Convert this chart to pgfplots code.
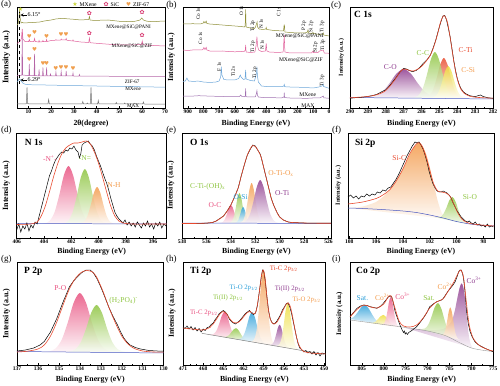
\documentclass[border=0pt]{standalone}
\usepackage{fontspec}
\setmainfont{Liberation Serif}
\newfontfamily\symf{DejaVu Sans}
\usepackage{pgfplots}
\pgfplotsset{compat=1.18}
\definecolor{cpink}{HTML}{E8507F}
\definecolor{cgreen}{HTML}{8DC43F}
\definecolor{corange}{HTML}{F39A4A}
\definecolor{cred}{HTML}{E84A2E}
\definecolor{cpurple}{HTML}{8E3B8E}
\definecolor{cblue}{HTML}{2B9ED8}
\definecolor{cyellow}{HTML}{EEDD3C}
\definecolor{cbase}{HTML}{4756C0}
\definecolor{colive}{HTML}{8E8E36}
\definecolor{czifc}{HTML}{E0619B}
\definecolor{czif}{HTML}{B565A7}
\definecolor{cmx}{HTML}{6CA6D9}
\definecolor{cmax}{HTML}{707070}
\definecolor{cmaxb}{HTML}{A070B0}
\definecolor{cstar}{HTML}{C8D43A}
\definecolor{csic}{HTML}{D6336C}
\definecolor{cheart}{HTML}{F0A050}
\tikzset{
 lab/.style={font=\fontsize{7.5}{8}\selectfont, inner sep=0pt},
 ttl/.style={anchor=north west, font=\bfseries\fontsize{9.5}{10}\selectfont, inner sep=0pt},
 plet/.style={anchor=north west, font=\fontsize{9}{10}\selectfont, inner sep=0pt},
}
\pgfplotsset{
 panel/.style={scale only axis, anchor=south west, clip=false,
   axis line style={line width=0.6pt}, ytick=\empty, xtick pos=bottom, tick align=inside,
   major tick length=2.2pt, minor tick length=1.3pt, minor x tick num=1,
   every tick/.style={black, line width=0.4pt},
   ymin=0,
   tick label style={font=\bfseries\fontsize{5.6}{6}\selectfont},
   xticklabel style={inner sep=1.5pt},
   /pgf/number format/assume math mode=true,
   /pgf/number format/1000 sep={},
   xlabel style={font=\bfseries\fontsize{7.8}{8}\selectfont, at={(axis description cs:0.5,0)}, anchor=north, inner sep=0pt},
   ylabel style={font=\bfseries\fontsize{7.5}{8}\selectfont, at={(axis description cs:-0.045,0.5)}, anchor=south, inner sep=0pt},
   ylabel={Intensity (a.u.)}},
 xps/.style={panel, x dir=reverse, xlabel={Binding Energy (eV)}},
 pk/.style={draw=none, smooth, top color=#1, bottom color=#1!6, fill opacity=0.85, forget plot},
 expt/.style={black, line width=0.5pt, forget plot},
 fit/.style={cred, line width=0.6pt, smooth, forget plot},
 bl/.style={cbase, line width=0.5pt, forget plot},
}
\begin{document}
\begin{tikzpicture}
\useasboundingbox (0,0) rectangle (500bp,386bp);
% ================= (a) =================
\begin{axis}[panel, at={(17bp,278bp)}, width=148bp, height=101bp, xmin=5, xmax=70, ymax=101,
  xtick={10,20,...,70}, xlabel={2θ(degree)}, xlabel style={yshift=-12bp},
  ylabel style={font=\bfseries\fontsize{8.5}{9}\selectfont},
  legend columns=3, legend cell align=left,
  legend style={draw=none, fill=none, font=\fontsize{5.7}{6}\selectfont, inner sep=0pt,
    at={(axis description cs:0.64,1.02)}, anchor=center,
    /tikz/every even column/.append style={column sep=5pt}}]
\addplot[cmax, line width=0.5pt, forget plot] coordinates {(5,4.2)(8,4)(9.1,4.3)(9.4,20.5)(9.7,4.3)(12,4)(18.6,4.2)(18.9,8.5)(19.2,4.2)(33.6,4.1)(33.9,6.5)(34.2,4.1)(35.6,4.1)(35.9,5)(36.2,4.1)(37.2,4.2)(37.5,20.5)(37.8,4.2)(40.4,4)(40.7,7.5)(41,4)(48.3,4)(48.6,5.5)(48.9,4)(52,4)(52.3,5)(52.6,4)(56.4,4)(56.7,4.8)(57,4)(60.2,4)(60.5,6)(60.8,4)(70,3.8)};
\addplot[cmx, line width=0.5pt, forget plot] coordinates {(5,26)(5.5,27.5)(6.0,29)(6.3,28.5)(6.8,27)(7.5,25)(8.5,23.8)(10,23.3)(15,23.1)(20,22.9)(25,22.6)(30,22.4)(35,22.2)(40,22)(45,21.8)(50,21.5)(55,21.4)(60,21.2)(65,21)(70,20.8)};
\addplot[czif, line width=0.5pt, forget plot] coordinates {(5,32.5)(6.5,32.5)(7.1,33)(7.3,76)(7.5,33)(10.2,32.3)(10.4,44)(10.6,32.3)(12.5,32.3)(12.7,54)(12.9,32.3)(14.5,32.2)(14.7,38.5)(14.9,32.2)(16.2,32.2)(16.4,40.5)(16.6,32.2)(17.8,32.2)(18.0,40.5)(18.2,32.2)(19.5,32.1)(19.7,34)(19.9,32.1)(21.9,32.1)(22.1,36)(22.3,32.1)(24.2,32.1)(24.4,36.5)(24.6,32.1)(26.4,32)(26.6,37)(26.8,32)(29.4,32)(29.6,35)(29.8,32)(32.2,31.9)(32.4,33.5)(32.6,31.9)(40,31.8)(50,31.7)(60,31.6)(70,31.5)};
\addplot[czifc, line width=0.5pt, forget plot] coordinates {(5,64.5)(5.8,66)(6.5,67)(7.0,70)(7.3,79)(7.6,69)(8.5,66.5)(10.1,66.3)(10.4,68.5)(10.7,66.3)(12.4,66.5)(12.7,69.5)(13.0,66.5)(14.5,66)(14.7,67.5)(14.9,66)(16.2,66.3)(16.4,67.5)(16.6,66.3)(17.8,66.5)(18.0,68.5)(18.2,66.5)(20,67.5)(22,67.8)(22.1,68.5)(22.3,67.8)(24.2,68)(24.4,69)(24.6,68)(26.4,68)(26.6,69.5)(26.8,67.8)(29.4,67)(29.6,68)(29.8,67)(33,66)(36.5,65.5)(36.8,70)(37.1,65.3)(40,64.7)(45,63.8)(50,63)(55,63)(59.7,63.5)(60,67)(60.3,63.3)(65,62.5)(70,62)};
\addplot[colive, line width=0.5pt, forget plot] coordinates {(5,83)(5.5,84)(5.9,90)(6.15,98.5)(6.4,90)(6.8,85)(7.3,85.5)(8,85)(10,85.3)(12,85.5)(15,86)(17,87)(20,88)(22,89)(25,89.7)(27,89.2)(30,88.7)(33,88)(35,88.3)(36.5,88.5)(36.8,91.5)(37.1,88)(39,87.5)(42,87.8)(45,88)(48,87.2)(50,86.7)(53,86.5)(55,86.3)(57,86.8)(59,88)(59.8,90)(60.5,88)(62,86.8)(65,86.3)(68,86.8)(70,87)};
\addplot[black, dashed, line width=0.5pt, forget plot] coordinates {(6.2,24)(6.2,96)};
\addplot[black, line width=0.4pt, -stealth, forget plot] coordinates {(9.4,93)(6.5,93)};
\addplot[black, line width=0.4pt, -stealth, forget plot] coordinates {(9.4,28)(6.5,28)};
\addplot[only marks, color=cstar, mark=text, text mark={★}, text mark as node=true, text mark style={font=\symf\fontsize{6}{6}\selectfont, inner sep=0pt}] coordinates {(6.6,99)};
\addlegendentry{MXene}
\addplot[only marks, color=csic, mark=text, text mark={✿}, text mark as node=true, text mark style={font=\symf\fontsize{6}{6}\selectfont, inner sep=0pt}] coordinates {(36.8,95)(60,95.5)(36.8,74.5)(60,72.5)};
\addlegendentry{SiC}
\addplot[only marks, color=cheart, mark=text, text mark={♥}, text mark as node=true, text mark style={font=\symf\fontsize{5.5}{6}\selectfont, inner sep=0pt}] coordinates {(10.4,71.5)(12.7,75)(18,71.5)(24.4,73)(26.6,73.5)(10.4,48)(12.7,58.5)(16.4,44)(18,44)(22.1,39.5)(24.4,40)(26.6,40.5)(29.6,39)};
\addlegendentry{ZIF-67}
\node[anchor=west, font=\fontsize{6}{6}\selectfont, inner sep=0pt] at (axis cs:9.6,93) {6.15°};
\node[anchor=west, font=\fontsize{6}{6}\selectfont, inner sep=0pt] at (axis cs:9.6,28) {6.29°};
\node[font=\fontsize{5.2}{6}\selectfont, inner sep=0pt] at (axis cs:54,80.7) {MXene@SiC@PANI};
\node[font=\fontsize{5.2}{6}\selectfont, inner sep=0pt] at (axis cs:55.5,61.3) {MXene@SiC@ZIF};
\node[font=\fontsize{5.2}{6}\selectfont, inner sep=0pt] at (axis cs:55.6,26.3) {ZIF-67};
\node[font=\fontsize{5.2}{6}\selectfont, inner sep=0pt] at (axis cs:56,18.7) {MXene};
\node[font=\fontsize{5.2}{6}\selectfont, inner sep=0pt] at (axis cs:56,2.5) {MAX};
\node[plet] at (axis description cs:-0.108,1.069) {(a)};
\end{axis}
% ================= (b) =================
\begin{axis}[panel, x dir=reverse, at={(183bp,278bp)}, width=146bp, height=101bp, xmin=0, xmax=930, ymax=101,
  xtick={0,100,...,900}, xlabel={Binding Energy (eV)}, xlabel style={yshift=-12bp},
  ylabel style={font=\bfseries\fontsize{7.8}{8}\selectfont, at={(axis description cs:-0.055,0.5)}}]
\addplot[cmaxb, line width=0.5pt] coordinates {(930,12)(880,11.8)(830,12.3)(780,12)(700,11.6)(650,11.4)(600,11.3)(570,11.5)(563,13)(555,11.5)(540,11.2)(533,12)(531,19.7)(529,11.5)(520,11)(470,11)(464,13.5)(462,15)(459,17.3)(456,13)(450,11)(420,10.5)(380,10.3)(300,10.2)(287,11)(285,15.3)(283,10.4)(250,10)(200,9.8)(150,9.7)(110,9.8)(100,10.2)(60,10)(40,11.5)(37,12)(33,10.2)(0,9.7)};
\addplot[cmx, line width=0.5pt] coordinates {(930,26.5)(915,27)(905,30)(895,27)(860,26.5)(835,27)(800,26)(760,25.5)(720,26)(700,27)(690,31)(686,41.3)(682,33)(670,28.5)(640,28)(600,28)(575,29.5)(565,33)(560,31)(545,28.5)(535,29)(531,38)(528,29)(500,27.5)(475,27)(466,32)(462,35)(459,41.3)(456,32)(450,26)(430,22)(400,21.5)(350,21.3)(300,21.3)(288,22)(285,23.5)(282,21.3)(250,21)(200,20.8)(150,20.5)(100,20)(65,21)(45,22)(38,24)(35,21.5)(0,19.7)};
\addplot[czifc, line width=0.5pt] coordinates {(930,58)(900,57.5)(870,58)(810,58)(800,59)(797,60.5)(790,58.5)(782,60.7)(778,58)(760,57)(720,56.8)(680,57)(640,56.5)(600,56.2)(560,56.5)(540,56.5)(533,58)(531,63)(528,56)(500,55.5)(472,56)(465,62)(462,66)(459,71.3)(455,62)(448,58)(430,56.5)(405,57)(400,64.7)(396,57)(380,56)(320,55.5)(292,56)(285,73)(281,56)(250,55)(200,55)(160,55)(110,55.2)(101,57)(98,55.3)(70,55.5)(60,57)(37,58)(30,55)(0,54.7)};
\addplot[colive, line width=0.5pt] coordinates {(930,84)(900,84)(870,84.3)(820,84)(800,85)(797,86.5)(790,85)(782,87)(778,84.5)(760,84)(720,83.5)(680,83)(640,82.5)(600,82)(560,81.5)(540,81)(534,82)(531,98.7)(528,81)(500,80)(475,79.5)(468,81)(462,84)(458,86)(455,81)(445,79)(420,78.5)(403,79)(400,80.5)(397,78.5)(350,77.5)(290,77)(286,83)(284,83)(281,76)(250,75.5)(200,75)(160,75)(140,75.5)(134,78)(130,75)(110,74.5)(102,75.5)(99,74.5)(60,73.5)(40,74)(37,75)(34,73)(0,72)};
\begin{scope}[every node/.style={rotate=90, font=\fontsize{5.2}{6}\selectfont, inner sep=0pt}]
\node at (axis cs:834,94) {Co 1s};
\node at (axis cs:557,97) {O 1s};
\node at (axis cs:485,82) {Ti 2p};
\node at (axis cs:432,84) {N 1s};
\node at (axis cs:321,95.7) {C 1s};
\node at (axis cs:159,82.3) {P 2p};
\node at (axis cs:114,81.3) {Si 2p};
\node at (axis cs:44,81.3) {Ti 3p};
\node at (axis cs:819,69.7) {Co 1s};
\node at (axis cs:485,61.3) {Ti 2p};
\node at (axis cs:426,63) {N 1s};
\node at (axis cs:87,60.7) {Si 2p};
\node at (axis cs:39,63) {Ti 3p};
\node at (axis cs:699,41.3) {F 1s};
\node at (axis cs:611,36.3) {Ti 2s};
\node at (axis cs:472,35.3) {Ti 2p};
\node at (axis cs:44,27.3) {Ti 3p};
\end{scope}
\node[font=\fontsize{5.6}{6}\selectfont, inner sep=0pt] at (axis cs:186,72) {MXene@SiC@PANI};
\node[font=\fontsize{5.6}{6}\selectfont, inner sep=0pt] at (axis cs:179,48) {MXene@SiC@ZIF};
\node[font=\fontsize{5.6}{6}\selectfont, inner sep=0pt] at (axis cs:135,13) {MXene};
\node[font=\fontsize{5.6}{6}\selectfont, inner sep=0pt] at (axis cs:135,2.5) {MAX};
\node[plet] at (axis description cs:-0.116,1.059) {(b)};
\end{axis}
% ================= (c) =================
\begin{axis}[xps, at={(350bp,278bp)}, width=143bp, height=101bp, xmin=282, xmax=290, ymax=101,
  xtick={282,...,290}, xlabel style={yshift=-12bp},
  ylabel style={font=\bfseries\fontsize{6}{7}\selectfont, at={(axis description cs:-0.04,0.5)}}]
\addplot[pk=cpurple] coordinates {(289.4,10)(289.0,10.38)(288.6,11.81)(288.2,16.09)(287.8,24.5)(287.4,34.39)(287.0,39)(286.6,34.39)(286.2,24.5)(285.8,16.09)(285.4,11.81)(285.0,10.38)(284.6,10)} -- cycle;
\addplot[pk=cred] coordinates {(285.95,10)(285.75,10.52)(285.55,12.5)(285.35,18.4)(285.15,30)(284.95,43.64)(284.75,50)(284.55,43.64)(284.35,30)(284.15,18.4)(283.95,12.5)(283.75,10.52)(283.55,10)} -- cycle;
\addplot[pk=cgreen] coordinates {(286.6,10)(286.375,10.6)(286.15,12.88)(285.925,19.66)(285.7,33)(285.475,48.69)(285.25,56)(285.025,48.69)(284.8,33)(284.575,19.66)(284.35,12.88)(284.125,10.6)(283.9,10)} -- cycle;
\addplot[pk=cyellow] coordinates {(285.55,10)(285.375,10.42)(285.2,12)(285.025,16.72)(284.85,26)(284.675,36.91)(284.5,42)(284.325,36.91)(284.15,26)(283.975,16.72)(283.8,12)(283.625,10.42)(283.45,10)} -- cycle;
\addplot[bl] coordinates {(290,10.5)(282,9)};
\addplot[expt] coordinates {(290,9.7)(289.7,10.3)(289.4,10.6)(289.1,11.3)(288.8,12.2)(288.5,13.6)(288.2,16.5)(288,18.2)(287.8,22)(287.6,26.5)(287.4,31)(287.2,36)(287.0,39.7)(286.85,39)(286.7,37.6)(286.5,36.3)(286.3,37.5)(286.1,40.5)(285.9,44.7)(285.7,48)(285.5,53)(285.35,60)(285.2,68)(285.05,78)(284.9,87)(284.8,92)(284.7,92.5)(284.6,88)(284.5,80)(284.4,71.3)(284.3,60)(284.2,48)(284.1,38)(284.0,29.7)(283.9,24)(283.8,19.7)(283.65,16)(283.5,14)(283.3,12.3)(283.0,11.3)(282.8,12.5)(282.7,13)(282.55,11.5)(282.3,10.3)(282,9.7)};
\addplot[fit] coordinates {(290,10.2)(289.5,10.8)(289,11.5)(288.5,13.3)(288,17.5)(287.5,28)(287.2,36)(287,39)(286.7,37.8)(286.45,37)(286.1,40)(285.8,45.5)(285.5,53)(285.3,62)(285.1,74)(284.95,85)(284.8,91.5)(284.7,92)(284.55,86)(284.4,71)(284.25,53)(284.1,37)(283.95,26)(283.8,19)(283.6,14.5)(283.3,11.8)(283,10.8)(282.5,10.2)(282,9.8)};
\node[lab, text=cpurple] at (axis cs:287.75,41.3) {C-O};
\node[lab, text=cgreen] at (axis cs:285.92,54.7) {C-C};
\node[lab, text=cred] at (axis cs:283.54,58) {C-Ti};
\node[lab, text=corange] at (axis cs:283.39,38) {C-Si};
\node[ttl] at (axis description cs:0.028,0.96) {C 1s};
\node[plet] at (axis description cs:-0.133,1.059) {(c)};
\end{axis}
% ================= (d) =================
\begin{axis}[xps, at={(16.7bp,148bp)}, width=149.9bp, height=105bp, xmin=395, xmax=406, ymax=105,
  xtick={396,398,...,406}, xlabel style={yshift=-10bp},
  ylabel style={font=\bfseries\fontsize{8}{8}\selectfont, at={(axis description cs:-0.045,0.5)}}]
\addplot[pk=cpink] coordinates {(404.225,14)(403.8875,14.75)(403.55,17.63)(403.2125,26.18)(402.875,43)(402.5375,62.78)(402.2,72)(401.8625,62.78)(401.525,43)(401.1875,26.18)(400.85,17.63)(400.5125,14.75)(400.175,14)} -- cycle;
\addplot[pk=cgreen] coordinates {(402.8,14)(402.5,14.72)(402.2,17.44)(401.9,25.55)(401.6,41.5)(401.3,60.26)(401.0,69)(400.7,60.26)(400.4,41.5)(400.1,25.55)(399.8,17.44)(399.5,14.72)(399.2,14)} -- cycle;
\addplot[pk=corange] coordinates {(401.525,14)(401.2875,14.48)(401.05,16.31)(400.8125,21.77)(400.575,32.5)(400.3375,45.1)(400.1,51)(399.8625,45.1)(399.625,32.5)(399.3875,21.77)(399.15,16.31)(398.9125,14.48)(398.675,14)} -- cycle;
\addplot[bl] coordinates {(406,14.5)(395,14)};
\addplot[expt] coordinates {(406,8)(405.85,14)(405.7,6)(405.55,12)(405.4,9)(405.25,15)(405.1,7)(404.95,13)(404.8,10)(404.65,16)(404.5,14)(404.35,22)(404.2,30)(404.05,38)(403.9,46)(403.75,54)(403.6,62)(403.45,67)(403.3,73)(403.15,78)(403.0,81)(402.85,84)(402.7,86)(402.55,85)(402.4,88)(402.25,87)(402.1,90)(401.95,89)(401.8,92)(401.65,88)(401.5,86)(401.4,80)(401.3,84)(401.2,93)(401.05,95)(400.9,96)(400.75,97)(400.6,94)(400.45,92)(400.3,88)(400.15,82)(400.0,77)(399.85,72)(399.7,66)(399.55,60)(399.4,55)(399.25,48)(399.1,40)(398.95,33)(398.8,26)(398.65,22)(398.5,19)(398.35,17)(398.2,15)(398.05,18)(397.9,13)(397.75,16)(397.6,12)(397.45,15)(397.3,11)(397.15,16)(397.0,13)(396.85,10)(396.7,15)(396.55,12)(396.4,17)(396.25,11)(396.1,14)(395.95,9)(395.8,15)(395.65,12)(395.5,16)(395.35,10)(395.2,14)(395.05,12)};
\addplot[fit] coordinates {(406,13.5)(405,14)(404.5,16)(404.2,22)(403.9,32)(403.6,46)(403.3,61)(403.0,74)(402.7,84)(402.4,90)(402.1,93)(401.8,95)(401.5,95)(401.2,96)(400.9,97)(400.6,94)(400.3,86)(400.0,75)(399.7,61)(399.4,46)(399.1,32)(398.8,22)(398.5,17)(398.2,15)(397.5,14)(396,14)(395,14)};
\node[lab, text=cpink] at (axis cs:403.56,79.7) {-N\textsuperscript{+}-};
\node[lab, text=cgreen] at (axis cs:400.99,79.7) {-N=};
\node[lab, text=corange] at (axis cs:398.86,53) {N-H};
\node[ttl] at (axis description cs:0.054,0.943) {N 1s};
\node[plet] at (axis description cs:-0.105,1.067) {(d)};
\end{axis}
% ================= (e) =================
\begin{axis}[xps, at={(182bp,148bp)}, width=149bp, height=105bp, xmin=525.8, xmax=538, ymax=105,
  xtick={526,528,...,538}, xlabel style={yshift=-10bp},
  ylabel style={font=\bfseries\fontsize{7.8}{8}\selectfont, at={(axis description cs:-0.05,0.5)}}]
\addplot[pk=cpink] coordinates {(534.975,15)(534.8125,15.23)(534.65,16.13)(534.4875,18.78)(534.325,24)(534.1625,30.14)(534.0,33)(533.8375,30.14)(533.675,24)(533.5125,18.78)(533.35,16.13)(533.1875,15.23)(533.025,15)} -- cycle;
\addplot[pk=cgreen] coordinates {(534.2,15)(534.05,15.39)(533.9,16.88)(533.75,21.3)(533.6,30)(533.45,40.23)(533.3,45)(533.15,40.23)(533.0,30)(532.85,21.3)(532.7,16.88)(532.55,15.39)(532.4,15)} -- cycle;
\addplot[pk=cblue] coordinates {(533.75,15)(533.625,15.21)(533.5,16)(533.375,18.36)(533.25,23)(533.125,28.46)(533.0,31)(532.875,28.46)(532.75,23)(532.625,18.36)(532.5,16)(532.375,15.21)(532.25,15)} -- cycle;
\addplot[pk=corange] coordinates {(533.35,15)(533.175,15.52)(533.0,17.5)(532.825,23.4)(532.65,35)(532.475,48.64)(532.3,55)(532.125,48.64)(531.95,35)(531.775,23.4)(531.6,17.5)(531.425,15.52)(531.25,15)} -- cycle;
\addplot[pk=cpurple] coordinates {(533.25,15)(532.975,15.56)(532.7,17.69)(532.425,24.03)(532.15,36.5)(531.875,51.16)(531.6,58)(531.325,51.16)(531.05,36.5)(530.775,24.03)(530.5,17.69)(530.225,15.56)(529.95,15)} -- cycle;
\addplot[bl] coordinates {(538,15)(525.8,14.5)};
\addplot[expt] coordinates {(538,14.7)(537,14.5)(536,14.8)(535.5,15.5)(535.2,17)(534.9,19.5)(534.6,22)(534.3,27)(534.0,33)(533.7,41)(533.4,50)(533.15,62)(532.9,73)(532.65,83)(532.4,89)(532.2,93)(532.0,92)(531.8,88)(531.6,84)(531.5,80)(531.3,70)(531.1,60)(530.9,50)(530.7,40)(530.5,33)(530.2,25)(530.0,21)(529.7,18)(529.3,16)(529,15.5)(528,15)(527,14.8)(525.8,14.8)};
\addplot[fit] coordinates {(538,14.5)(537,14.5)(536,14.9)(535.5,15.6)(535.2,17)(534.9,19.3)(534.6,22)(534.3,27)(534.0,33)(533.7,41)(533.4,50)(533.15,62)(532.9,73)(532.65,83)(532.4,89.5)(532.2,92.5)(532.0,91.5)(531.8,88)(531.6,83.5)(531.5,80)(531.3,70)(531.1,60)(530.9,50)(530.7,40)(530.5,33)(530.2,25)(530.0,21)(529.7,18)(529.3,16)(529,15.5)(528,15)(527,14.8)(525.8,14.7)};
\node[lab, text=corange] at (axis cs:529.9,64.7) {O-Ti-O\textsubscript{x}};
\node[lab, text=cgreen] at (axis cs:535.9,51.3) {C-Ti-(OH)\textsubscript{x}};
\node[lab, text=cblue] at (axis cs:533.2,41.3) {O-Si};
\node[lab, text=cpink] at (axis cs:535.3,33) {O-C};
\node[lab, text=cpurple] at (axis cs:529.8,44.7) {O-Ti};
\node[ttl] at (axis description cs:0.054,0.943) {O 1s};
\node[plet] at (axis description cs:-0.107,1.067) {(e)};
\end{axis}
% ================= (f) =================
\begin{axis}[xps, at={(348bp,148bp)}, width=146bp, height=105bp, xmin=97.2, xmax=108.1, ymax=105,
  xtick={98,100,...,108}, xlabel style={yshift=-10bp},
  ylabel style={font=\bfseries\fontsize{6.3}{7}\selectfont, at={(axis description cs:-0.045,0.5)}}]
\addplot[pk=corange] coordinates {(108,30)(107.5,30.5)(107,31.5)(106.5,33.5)(106,36)(105.5,41)(105,48)(104.5,57)(104,69)(103.6,80)(103.3,88)(103.0,93.5)(102.8,95)(102.6,93)(102.3,85)(102.0,71)(101.7,54)(101.4,37)(101.1,25)(100.8,20)(100.5,18.5)} -- cycle;
\addplot[pk=cgreen] coordinates {(101.65,21.0)(101.425,20.64)(101.2,21.16)(100.975,24.04)(100.75,30.33)(100.525,37.84)(100.3,41.0)(100.075,36.51)(99.85,27.66)(99.625,20.04)(99.4,15.83)(99.175,13.98)(98.95,13.0)} -- cycle;
\addplot[bl, smooth] coordinates {(108.1,30)(107,29.5)(106,28.8)(105,28)(104,27)(103,25.5)(102,23)(101,20)(100,16.5)(99,14)(98,12.5)(97.2,12)};
\addplot[expt] coordinates {(108.1,41)(107.9,43)(107.7,40)(107.5,42)(107.3,39)(107.1,42)(106.9,41)(106.7,44)(106.5,42)(106.3,44)(106.1,43)(105.9,46)(105.7,45)(105.5,48)(105.3,47)(105.1,50)(104.9,51)(104.7,55)(104.5,59)(104.3,64)(104.1,70)(103.9,76)(103.7,82)(103.5,87)(103.3,92)(103.1,96)(102.95,95)(102.8,96)(102.65,93)(102.5,89)(102.35,83)(102.2,76)(102.05,67)(101.9,60)(101.75,54)(101.6,50)(101.45,47)(101.3,46)(101.15,46)(101.0,47)(100.85,46)(100.7,45)(100.55,43)(100.4,40)(100.25,35)(100.1,31)(99.95,27)(99.8,24)(99.65,21)(99.5,19)(99.35,17)(99.2,16)(99.05,17)(98.9,15)(98.75,14)(98.6,16)(98.45,13)(98.3,14)(98.15,12)(98.0,13)(97.85,11)(97.7,14)(97.55,11)(97.4,12)(97.25,11)};
\addplot[fit] coordinates {(108.1,34)(107,36)(106,39.5)(105.5,43)(105,48)(104.5,57)(104,69)(103.5,84)(103.0,94)(102.75,95)(102.5,90)(102.2,78)(102,68)(101.7,54)(101.4,47)(101.1,46)(100.8,45)(100.5,42)(100.2,34)(99.9,25)(99.6,19)(99.3,16)(99,14.5)(98.5,13.5)(98,12.8)(97.2,12)};
\node[lab, text=cred] at (axis cs:104.27,79.7) {Si-C};
\node[lab, text=cgreen] at (axis cs:99.0,41.3) {Si-O};
\node[ttl] at (axis description cs:0.048,0.943) {Si 2p};
\node[plet] at (axis description cs:-0.11,1.067) {(f)};
\end{axis}
% ================= (g) =================
\begin{axis}[xps, at={(17bp,21bp)}, width=146.6bp, height=103bp, xmin=130, xmax=137, ymax=103,
  xtick={130,...,137}, xlabel style={yshift=-11bp},
  ylabel style={font=\bfseries\fontsize{8}{8}\selectfont, at={(axis description cs:-0.045,0.5)}}]
\addplot[pk=cpink] coordinates {(135.725,13)(135.4375,13.77)(135.15,16.69)(134.8625,25.39)(134.575,42.5)(134.2875,62.62)(134.0,72)(133.7125,62.62)(133.425,42.5)(133.1375,25.39)(132.85,16.69)(132.5625,13.77)(132.275,13)} -- cycle;
\addplot[pk=cgreen] coordinates {(134.7,13)(134.45,13.61)(134.2,15.94)(133.95,22.87)(133.7,36.5)(133.45,52.53)(133.2,60)(132.95,52.53)(132.7,36.5)(132.45,22.87)(132.2,15.94)(131.95,13.61)(131.7,13)} -- cycle;
\addplot[bl] coordinates {(137,13.5)(130,12)};
\addplot[expt] coordinates {(137,14)(136.6,15)(136.2,17)(135.9,20)(135.7,23.5)(135.4,33)(135.1,46.5)(134.8,63)(134.5,78)(134.3,84)(134.1,88.5)(133.9,92.5)(133.7,95)(133.5,95)(133.35,92)(133.2,87)(133.05,80.5)(132.9,73)(132.75,65)(132.6,57)(132.4,48)(132.2,40)(132.05,33)(131.9,27)(131.75,23)(131.6,20)(131.35,17.5)(131.1,16)(130.7,14.5)(130.3,14)(130,13.8)};
\addplot[fit] coordinates {(137,13)(136.5,13.8)(136.0,16)(135.7,20)(135.4,29)(135.1,43)(134.8,60)(134.5,76)(134.2,87)(133.9,93)(133.65,94.5)(133.4,93)(133.2,88)(132.9,74)(132.6,57)(132.3,42)(132.0,29)(131.7,21)(131.4,16.5)(131.0,14)(130.5,13)(130,12.8)};
\node[lab, text=cpink] at (axis cs:134.93,76.7) {P-O};
\node[lab, text=cgreen] at (axis cs:131.91,64) {(H\textsubscript{2}PO\textsubscript{4})\textsuperscript{-}};
\node[ttl] at (axis description cs:0.048,0.951) {P 2p};
\node[plet] at (axis description cs:-0.11,1.068) {(g)};
\end{axis}
% ================= (h) =================
\begin{axis}[xps, at={(183bp,21bp)}, width=142.7bp, height=103bp, xmin=449.75, xmax=471, ymax=103,
  xtick={450,453,...,471}, minor x tick num=2, xlabel style={yshift=-11bp},
  ylabel style={font=\bfseries\fontsize{7.8}{8}\selectfont, at={(axis description cs:-0.05,0.5)}}]
\addplot[pk=cpink] coordinates {(467.2,30.55)(466.8,30.42)(466.4,31.22)(466.0,34.52)(465.6,41.45)(465.2,49.69)(464.8,53.28)(464.4,48.77)(464.0,39.61)(463.6,31.75)(463.2,27.52)(462.8,25.80)(462.4,25.01)} -- cycle;
\addplot[pk=cgreen] coordinates {(465.35,28.41)(464.975,28.12)(464.6,28.24)(464.225,29.43)(463.85,32.18)(463.475,35.50)(463.1,36.82)(462.725,34.63)(462.35,30.45)(461.975,26.83)(461.6,24.78)(461.225,23.79)(460.85,23.22)} -- cycle;
\addplot[pk=cblue] coordinates {(463.1,25.82)(462.7,25.75)(462.3,26.77)(461.9,30.73)(461.5,38.97)(461.1,48.74)(460.7,53.05)(460.3,47.82)(459.9,37.12)(459.5,27.96)(459.1,23.08)(458.7,21.13)(458.3,20.28)} -- cycle;
\addplot[pk=corange] coordinates {(460.95,23.34)(460.625,23.92)(460.3,27.22)(459.975,37.75)(459.65,58.84)(459.325,83.69)(459.0,95.09)(458.675,82.94)(458.35,57.34)(458.025,35.50)(457.7,24.22)(457.375,20.17)(457.05,18.84)} -- cycle;
\addplot[pk=cpurple] coordinates {(458.25,20.22)(457.975,20.19)(457.7,20.97)(457.425,23.89)(457.15,29.95)(456.875,37.14)(456.6,40.32)(456.325,36.5)(456.05,28.68)(455.775,21.98)(455.5,18.43)(455.225,17.02)(454.95,16.41)} -- cycle;
\addplot[pk=cyellow] coordinates {(457.2,19.01)(456.9,19.25)(456.6,21.13)(456.3,27.42)(456.0,40.12)(455.7,55.13)(455.4,61.93)(455.1,54.44)(454.8,38.74)(454.5,25.34)(454.2,18.36)(453.9,15.79)(453.6,14.85)} -- cycle;
\addplot[gray, line width=0.5pt, forget plot] coordinates {(468.2,31.7)(450,10.7)};
\addplot[expt] coordinates {(471,38)(470.7,36.5)(470.4,39)(470.1,36)(469.8,38.5)(469.5,35)(469.2,37.5)(468.9,34)(468.6,36.5)(468.3,33)(468.0,36)(467.7,34.5)(467.4,37.5)(467.1,38)(466.8,40.5)(466.5,42)(466.2,45.5)(465.9,48)(465.6,51.5)(465.3,53)(465.0,54.5)(464.7,53)(464.4,50.5)(464.1,46)(463.8,43.5)(463.5,42)(463.2,41)(462.9,42.5)(462.6,44)(462.3,46.5)(462.0,49)(461.7,51.5)(461.4,53)(461.1,54.5)(460.8,52)(460.5,50.5)(460.2,52)(459.9,60)(459.6,75)(459.35,88)(459.15,95)(458.95,93)(458.75,84)(458.5,68)(458.25,54)(458.0,46)(457.7,42)(457.4,41)(457.1,43)(456.8,46.5)(456.5,50)(456.2,55)(455.9,58)(455.6,61.5)(455.35,62)(455.1,58)(454.85,52)(454.6,44)(454.35,36)(454.1,28)(453.85,21)(453.6,17)(453.3,15)(453.0,13)(452.7,14.5)(452.4,12)(452.1,13.5)(451.8,11)(451.5,13.5)(451.2,10)(450.9,12.5)(450.6,9)(450.3,12)(449.75,11)};
\addplot[fit] coordinates {(471,37)(469,35.5)(468,35)(467,37.5)(466.5,41)(466,46)(465.5,51)(465,53.5)(464.5,51)(464,46)(463.5,42.5)(463,42)(462.5,44)(462,48)(461.5,52)(461,53.5)(460.5,51)(460.1,54)(459.7,70)(459.3,90)(459.05,95)(458.8,88)(458.5,68)(458.2,52)(457.9,44)(457.5,41)(457,43)(456.5,49)(456,56)(455.6,61)(455.3,62)(455,58)(454.7,49)(454.4,38)(454.1,28)(453.8,21)(453.4,16)(453,13.5)(452,12)(449.75,11)};
\begin{scope}[every node/.style={lab, font=\fontsize{6.8}{7}\selectfont}]
\node[text=cpink] at (axis cs:467.9,51.7) {Ti-C 2p\textsubscript{1/2}};
\node[text=cgreen] at (axis cs:464.3,66.7) {Ti(II) 2p\textsubscript{1/2}};
\node[text=cblue] at (axis cs:461.96,76.7) {Ti-O 2p\textsubscript{1/2}};
\node[text=cred] at (axis cs:456.0,96) {Ti-C 2p\textsubscript{3/2}};
\node[text=cpurple] at (axis cs:455.1,75.7) {Ti(II) 2p\textsubscript{3/2}};
\node[text=corange] at (axis cs:452.6,65) {Ti-O 2p\textsubscript{3/2}};
\end{scope}
\node[ttl] at (axis description cs:0.049,0.951) {Ti 2p};
\node[plet] at (axis description cs:-0.119,1.068) {(h)};
\end{axis}
% ================= (i) =================
\begin{axis}[xps, at={(350bp,21bp)}, width=143.3bp, height=103bp, xmin=775, xmax=807.7, ymax=103,
  xtick={775,780,...,805}, xlabel style={yshift=-11bp},
  ylabel style={font=\bfseries\fontsize{7}{8}\selectfont, at={(axis description cs:-0.05,0.5)}}]
\addplot[pk=cpurple] coordinates {(795,37)(793,36.2)(791,35.5)(789.5,35)(788,35)(786.5,36)(785.5,38.5)(784.5,44)(783.8,54)(783.2,67)(782.7,77)(782.3,81.5)(781.9,79)(781.5,68)(781.1,50)(780.7,33)(780.3,23)(779.9,18.5)(779.5,16.5)} -- cycle;
\addplot[pk=cgreen] coordinates {(792.1,36.4)(791.35,35.9)(790.6,36.54)(789.85,40.21)(789.1,48.3)(788.35,57.97)(787.6,62.0)(786.85,56.17)(786.1,44.7)(785.35,34.81)(784.6,29.34)(783.85,26.9)(783.1,25.6)} -- cycle;
\addplot[pk=corange] coordinates {(787.05,30.3)(786.675,30.24)(786.3,31.28)(785.925,35.25)(785.55,43.5)(785.175,53.28)(784.8,57.6)(784.425,52.38)(784.05,41.7)(783.675,32.55)(783.3,27.68)(782.925,25.74)(782.55,24.9)} -- cycle;
\addplot[pk=cblue] coordinates {(807.7,46.06)(806.85,48.02)(806.0,52.4)(805.15,57.65)(804.3,59.8)(803.45,56.54)(802.6,50.19)(801.75,44.71)(800.9,41.65)(800.05,40.25)(799.2,39.48)} -- cycle;
\addplot[pk=cyellow] coordinates {(803.7,42.29)(803.1,42.05)(802.5,42.18)(801.9,43.28)(801.3,45.81)(800.7,48.84)(800.1,50.06)(799.5,48.1)(798.9,44.32)(798.3,41.05)(797.7,39.2)(797.1,38.33)(796.5,37.83)} -- cycle;
\addplot[pk=cpink] coordinates {(800.65,40.4)(800.275,40.55)(799.9,41.75)(799.525,45.8)(799.15,53.97)(798.775,63.63)(798.4,68.01)(798.025,63.17)(797.65,53.04)(797.275,44.4)(796.9,39.89)(796.525,38.23)(796.15,37.61)} -- cycle;
\addplot[gray!80, line width=0.4pt, smooth, forget plot] coordinates {(807.7,45)(800,40.5)(795,37.5)(790,34)(786,29.5)(783,23)(780,17)(777,14.5)(775,13.5)};
\addplot[expt] coordinates {(807.7,48.3)(807,52)(806.1,56.7)(805.3,59)(804.6,60)(803.8,59.5)(803.1,58.3)(802.3,57.5)(801.6,56.7)(800.8,58.5)(800.1,61.7)(799.5,65)(798.9,68.3)(798.5,69)(798.2,68.3)(797.8,62)(797.4,53.3)(796.8,46)(796.3,40)(795.8,35)(795.5,32.5)(795.3,34)(795.1,31)(794.9,32.5)(794.6,30.5)(794.3,32.5)(794,33.3)(793.6,34.5)(793.3,35.5)(792.5,38.3)(791.8,42)(791,46.7)(790.2,52)(789.5,58.3)(788.7,61)(787.9,63.3)(787.2,64.5)(786.8,65)(786.4,66.7)(785.9,70)(785.3,74)(784.8,76.7)(784.2,80)(783.7,83.3)(783.3,88)(782.9,93.3)(782.6,95)(782.3,95)(782,91)(781.8,86.7)(781.5,75)(781.1,53.3)(780.7,41)(780.3,33.3)(779.8,28)(779.2,23.3)(778.5,20.5)(777.6,18.3)(776.8,16.5)(776,15)(775,13.3)};
\addplot[fit] coordinates {(807.7,48)(806,56)(804.5,60)(803,58)(801.5,57)(800,61)(799,68)(798.3,69)(797.5,58)(796.5,44)(795.5,39)(794,38)(792.5,40)(791,47)(789.5,57)(788,63)(786.5,66)(785,76)(784,83)(783,92)(782.4,95)(781.8,88)(781.2,65)(780.5,40)(779.5,26)(778,19)(776,15)(775,14)};
\node[lab, text=cblue] at (axis cs:804.86,67.3) {Sat.};
\node[lab, text=corange] at (axis cs:800.3,67.3) {Co\textsuperscript{2+}};
\node[lab, text=cpink] at (axis cs:795.66,68.3) {Co\textsuperscript{3+}};
\node[lab, text=cgreen] at (axis cs:789.67,67.3) {Sat.};
\node[lab, text=corange] at (axis cs:786.0,78.3) {Co\textsuperscript{2+}};
\node[lab, text=cpurple] at (axis cs:779.4,85) {Co\textsuperscript{3+}};
\node[ttl] at (axis description cs:0.042,0.951) {Co 2p};
\node[plet] at (axis description cs:-0.126,1.068) {(i)};
\end{axis}
\end{tikzpicture}
\end{document}
